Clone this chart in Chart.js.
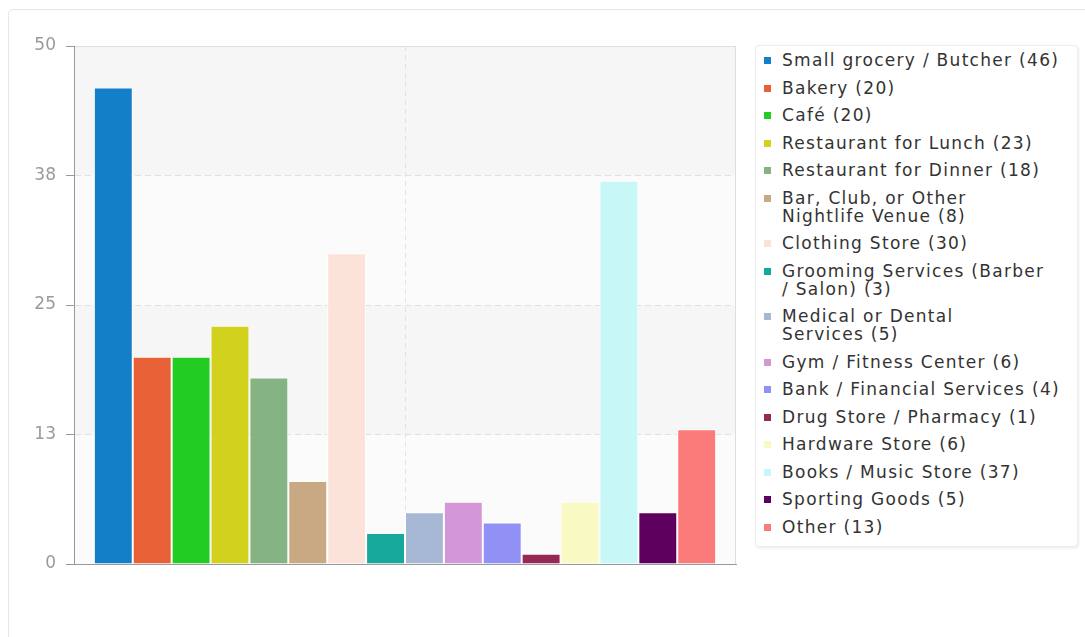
<!DOCTYPE html>
<html>
<head>
<meta charset="utf-8">
<script src="https://cdn.jsdelivr.net/npm/chart.js@4.4.1/dist/chart.umd.min.js"></script>
<style>
  body { margin: 0; background: #fff; font-family: "DejaVu Sans", sans-serif; }
  #card { position: absolute; left: 8px; top: 9px; width: 1100px; height: 700px;
          border: 1px solid #e6e6e6; border-radius: 5px; }
  #chart { position: absolute; left: 0; top: 0; }
  #legend { position: absolute; left: 755px; top: 45px; width: 323px; height: 502px; box-sizing: border-box;
            border: 1px solid #ececec; border-radius: 4px; box-shadow: 1px 1px 3px rgba(0,0,0,0.08);
            background: #fff; margin: 0; padding: 5px 0 0 0; list-style: none; }
  #legend li { position: relative; padding-left: 26px; margin-bottom: 9.5px; font-size: 17px;
               line-height: 18px; color: #333; letter-spacing: 1.3px; white-space: pre-line; }
  #legend li span { position: absolute; left: 8px; top: 6px; width: 7px; height: 7px; }
</style>
</head>
<body>
<div id="card"></div>
<canvas id="chart" width="745" height="600"></canvas>
<ul id="legend"></ul>
<script>
// Categorias y valores
const names = [
  "Small grocery / Butcher", "Bakery", "Café", "Restaurant for Lunch", "Restaurant for Dinner",
  "Bar, Club, or Other\nNightlife Venue", "Clothing Store", "Grooming Services (Barber\n/ Salon)",
  "Medical or Dental\nServices", "Gym / Fitness Center", "Bank / Financial Services",
  "Drug Store / Pharmacy", "Hardware Store", "Books / Music Store", "Sporting Goods", "Other"
];
const counts = [46, 20, 20, 23, 18, 8, 30, 3, 5, 6, 4, 1, 6, 37, 5, 13];
const colors = [
  "#127fc8", "#e86035", "#22cc22", "#d2d21e", "#86b383", "#c9a983", "#fbe3da", "#16a89b",
  "#a6b8d4", "#d396d6", "#9191f5", "#962856", "#f9f9c4", "#c8f7f7", "#5e005e", "#fb7b7b"
];
const yTicks = [0, 12.5, 25, 37.5, 50];

// Fondo del area del grafico con bandas alternas
const bands = {
  id: "bands",
  beforeDraw(chart) {
    const { ctx, chartArea: a, scales } = chart;
    ctx.save();
    ctx.fillStyle = "#fbfbfb";
    ctx.fillRect(a.left, a.top, a.right - a.left, a.bottom - a.top);
    ctx.fillStyle = "#f6f6f6";
    for (let i = 1; i < yTicks.length - 1; i += 2) {
      const y1 = scales.y.getPixelForValue(yTicks[i + 1]);
      const y0 = scales.y.getPixelForValue(yTicks[i]);
      ctx.fillRect(a.left, y1, a.right - a.left, y0 - y1);
    }
    ctx.strokeStyle = "#dedede";
    ctx.lineWidth = 1;
    ctx.strokeRect(a.left + 0.5, a.top + 0.5, a.right - a.left - 1, a.bottom - a.top);
    ctx.restore();
  }
};

const ctx = document.getElementById("chart").getContext("2d");
new Chart(ctx, {
  type: "bar",
  data: {
    labels: [""],
    datasets: names.map((n, i) => ({
      label: n,
      data: [counts[i]],
      backgroundColor: colors[i],
      borderColor: "#ffffff",
      borderWidth: 1,
      categoryPercentage: 0.94,
      barPercentage: 1
    }))
  },
  options: {
    responsive: false,
    animation: false,
    devicePixelRatio: 1,
    layout: { padding: { top: 46, right: 9, bottom: 36, left: 0 } },
    plugins: { legend: { display: false }, tooltip: { enabled: false } },
    scales: {
      x: {
        ticks: { display: false },
        grid: { offset: false, color: "#e2e2e2", drawTicks: false },
        border: { color: "#999", width: 1, dash: [5, 4] }
      },
      y: {
        min: 0,
        max: 50,
        afterFit: (s) => { s.width = 74; },
        afterBuildTicks: (s) => { s.ticks = yTicks.map((v) => ({ value: v })); },
        ticks: {
          color: "#9a9a9a",
          padding: 10,
          font: { family: "DejaVu Sans", size: 17 },
          callback: (v) => Math.round(v)
        },
        grid: {
          color: (c) => (c.tick && c.tick.value > 0 && c.tick.value < 50 ? "#e0e0e0" : "rgba(0,0,0,0)"),
          tickLength: 8,
          tickColor: "#999",
          tickBorderDash: []
        },
        border: { color: "#999", width: 1, dash: [6, 4] }
      }
    }
  },
  plugins: [bands]
});

// Leyenda en HTML
const ul = document.getElementById("legend");
names.forEach((n, i) => {
  const li = document.createElement("li");
  const sw = document.createElement("span");
  sw.style.background = colors[i];
  li.appendChild(sw);
  li.appendChild(document.createTextNode(n + " (" + counts[i] + ")"));
  ul.appendChild(li);
});
</script>
</body>
</html>
